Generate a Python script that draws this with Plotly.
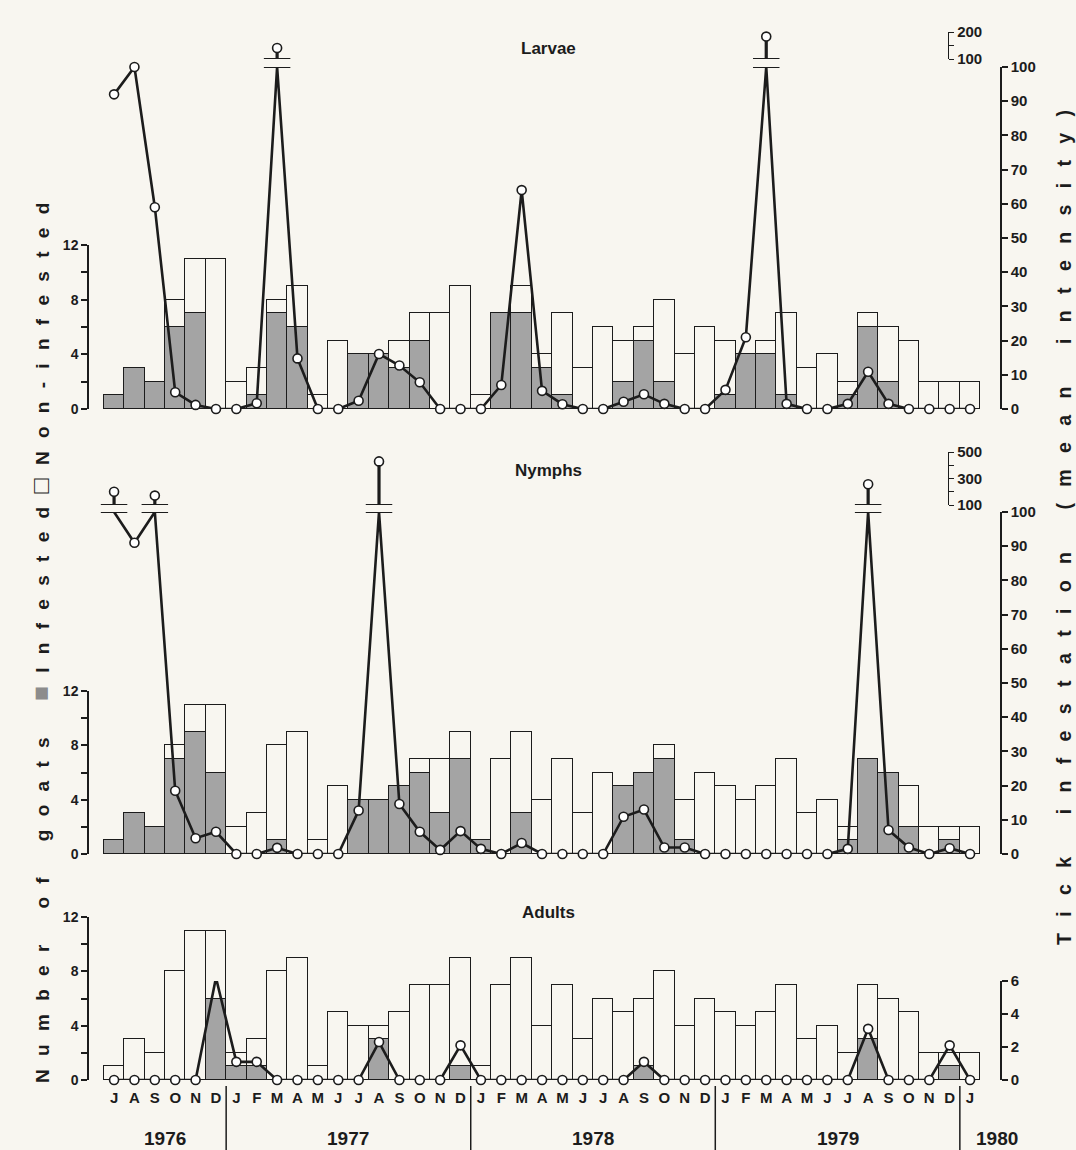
import plotly.graph_objects as go

W, H = 1076, 1150

# ---------------- data ----------------
month_labels = ["J", "A", "S", "O", "N", "D",
                "J", "F", "M", "A", "M", "J", "J", "A", "S", "O", "N", "D",
                "J", "F", "M", "A", "M", "J", "J", "A", "S", "O", "N", "D",
                "J", "F", "M", "A", "M", "J", "J", "A", "S", "O", "N", "D",
                "J"]
year_labels = ["1976", "1977", "1978", "1979", "1980"]
year_centers = [2.5, 11.5, 23.5, 35.5, 43.3]
year_breaks = [5.5, 17.5, 29.5, 41.5]

total_goats = [1, 3, 2, 8, 11, 11,
               2, 3, 8, 9, 1, 5, 4, 4, 5, 7, 7, 9,
               1, 7, 9, 4, 7, 3, 6, 5, 6, 8, 4, 6,
               5, 4, 5, 7, 3, 4, 2, 7, 6, 5, 2, 2,
               2]

larvae_infested = [1, 3, 2, 6, 7, 0,
                   0, 1, 7, 6, 0, 0, 4, 4, 3, 5, 0, 0,
                   0, 7, 7, 3, 1, 0, 0, 2, 5, 2, 0, 0,
                   1, 4, 4, 1, 0, 0, 1, 6, 2, 0, 0, 0,
                   0]
nymph_infested = [1, 3, 2, 7, 9, 6,
                  0, 0, 1, 0, 0, 0, 4, 4, 5, 6, 3, 7,
                  1, 0, 3, 0, 0, 0, 0, 5, 6, 7, 1, 0,
                  0, 0, 0, 0, 0, 0, 1, 7, 6, 2, 0, 1,
                  0]
adult_infested = [0, 0, 0, 0, 0, 6,
                  1, 1, 0, 0, 0, 0, 0, 3, 0, 0, 0, 1,
                  0, 0, 0, 0, 0, 0, 0, 0, 1, 0, 0, 0,
                  0, 0, 0, 0, 0, 0, 0, 3, 0, 0, 0, 1,
                  0]

larvae_intensity = [92, 100, 59, 4.9, 1.2, 0,
                    0, 1.7, 141, 14.8, 0, 0, 2.4, 16.1, 12.7, 7.8, 0, 0,
                    0, 7, 64, 5.3, 1.4, 0, 0, 2.1, 4.3, 1.5, 0, 0,
                    5.6, 21, 183, 1.5, 0, 0, 1.5, 10.9, 1.5, 0, 0, 0,
                    0]
nymph_intensity = [200, 91, 171, 18.5, 4.6, 6.5,
                   0, 0, 1.8, 0, 0, 0, 12.7, 429, 14.6, 6.5, 1.2, 6.7,
                   1.5, 0, 3.2, 0, 0, 0, 0, 10.9, 13, 1.9, 1.9, 0,
                   0, 0, 0, 0, 0, 0, 1.5, 257, 7, 1.9, 0, 1.7,
                   0]
adult_intensity = [0, 0, 0, 0, 0, 6.2,
                   1.1, 1.1, 0, 0, 0, 0, 0, 2.3, 0, 0, 0, 2.1,
                   0, 0, 0, 0, 0, 0, 0, 0, 1.1, 0, 0, 0,
                   0, 0, 0, 0, 0, 0, 0, 3.1, 0, 0, 0, 2.1,
                   0]

# ---------------- style ----------------
BG = "#f8f6f0"
INK = "#1c1c1c"
GRAY = "#a4a4a4"
FONT = "Liberation Sans"


def fx(px):
    return px / W


def fy(py):
    return 1 - py / H


fig = go.Figure()
shapes = []
idx = list(range(len(month_labels)))


def add_panel(inf, intensity, ybar, yline, yinset, cap):
    non = [t - i for t, i in zip(total_goats, inf)]
    fig.add_trace(go.Bar(x=idx, y=inf, yaxis=ybar, width=1,
                         marker=dict(color=GRAY, line=dict(color=INK, width=1.4))))
    fig.add_trace(go.Bar(x=idx, y=non, yaxis=ybar, width=1,
                         marker=dict(color=BG, line=dict(color=INK, width=1.4))))
    clipped = [min(v, cap) for v in intensity]
    fig.add_trace(go.Scatter(x=idx, y=clipped, yaxis=yline, mode="lines",
                             line=dict(color=INK, width=2.6)))
    fig.add_trace(go.Scatter(x=idx, y=[v if v <= cap else None for v in intensity],
                             yaxis=yline, mode="markers", cliponaxis=False,
                             marker=dict(symbol="circle", size=9, color="white",
                                         line=dict(color=INK, width=1.6))))
    if yinset is None:
        return
    for i, v in enumerate(intensity):
        if v > cap:
            fig.add_trace(go.Scatter(x=[i, i], y=[100, v], yaxis=yinset, mode="lines",
                                     line=dict(color=INK, width=3.2), cliponaxis=False))
            fig.add_trace(go.Scatter(x=[i], y=[v], yaxis=yinset, mode="markers",
                                     cliponaxis=False,
                                     marker=dict(symbol="circle", size=9, color="white",
                                                 line=dict(color=INK, width=1.6))))
            for yref in (yline, yinset):
                yv = cap if yref == yline else 100
                shapes.append(dict(type="line", xref="x", yref=yref,
                                   x0=i - 0.65, x1=i + 0.65, y0=yv, y1=yv,
                                   line=dict(color=INK, width=2)))


add_panel(larvae_infested, larvae_intensity, "y", "y2", "y3", 100)
add_panel(nymph_infested, nymph_intensity, "y4", "y5", "y6", 100)
add_panel(adult_infested, adult_intensity, "y7", "y8", None, 100)

tickfont = dict(family=FONT, size=14, color=INK, weight="bold")
rtickfont = dict(family=FONT, size=15, color=INK, weight="bold")


def left_axis(dom):
    return dict(domain=dom, range=[0, 12], anchor="x", side="left",
                tickvals=[0, 2, 4, 6, 8, 10, 12],
                ticktext=["0", "", "4", "", "8", "", "12"],
                ticks="outside", ticklen=6, tickwidth=1.5, tickcolor=INK,
                showline=True, linecolor=INK, linewidth=1.5, automargin=False,
                showgrid=False, zeroline=False, tickfont=tickfont, fixedrange=True)


def right_axis(dom, rng, vals):
    return dict(domain=dom, range=rng, anchor="x", side="right",
                tickvals=vals, ticks="outside", ticklen=6, tickwidth=1.5, tickcolor=INK,
                showline=True, linecolor=INK, linewidth=1.5, automargin=False,
                showgrid=False, zeroline=False, tickfont=rtickfont, fixedrange=True)


def inset_axis(dom, rng, vals, texts):
    return dict(domain=dom, range=rng, anchor="free", position=fx(948), side="right",
                tickvals=vals, ticktext=texts, ticks="outside", ticklen=5,
                tickwidth=1.4, tickcolor=INK, showline=True, linecolor=INK,
                linewidth=1.4, showgrid=False, zeroline=False, automargin=False,
                tickfont=rtickfont, fixedrange=True)


layout = dict(
    width=W, height=H, autosize=False,
    margin=dict(l=0, r=0, t=0, b=0, pad=0),
    paper_bgcolor=BG, plot_bgcolor="rgba(0,0,0,0)",
    barmode="stack", bargap=0, showlegend=False, hovermode=False,
    font=dict(family=FONT, color=INK),
    xaxis=dict(domain=[fx(89), fx(1000)], range=[-1.23, 43.47], anchor="y7",
               tickvals=idx, ticktext=month_labels, ticks="outside", ticklen=4,
               tickcolor="rgba(0,0,0,0)", showline=False, showgrid=False, zeroline=False,
               tickfont=dict(family=FONT, size=15, color=INK, weight="bold"),
               automargin=False, fixedrange=True),
    yaxis=left_axis([fy(409), fy(245)]),
    yaxis2=right_axis([fy(409), fy(67)], [0, 100], list(range(0, 101, 10))),
    yaxis3=inset_axis([fy(59), fy(32)], [100, 200], [100, 150, 200], ["100", "", "200"]),
    yaxis4=left_axis([fy(854), fy(691)]),
    yaxis5=right_axis([fy(854), fy(512)], [0, 100], list(range(0, 101, 10))),
    yaxis6=inset_axis([fy(505), fy(452)], [100, 500], [100, 200, 300, 400, 500],
                      ["100", "", "300", "", "500"]),
    yaxis7=left_axis([fy(1080), fy(917)]),
    yaxis8=right_axis([fy(1080), fy(981)], [0, 6], [0, 2, 4, 6]),
)

# year separators
for b in year_breaks:
    shapes.append(dict(type="line", xref="x", yref="paper", x0=b, x1=b,
                       y0=fy(1150), y1=fy(1086), line=dict(color=INK, width=1.5)))

annotations = []
for t, px, py in [("Larvae", 548, 48), ("Nymphs", 548, 470), ("Adults", 548, 912)]:
    annotations.append(dict(text="<b>%s</b>" % t, xref="paper", yref="paper",
                            x=fx(px), y=fy(py), xanchor="center", yanchor="middle",
                            showarrow=False,
                            font=dict(family=FONT, size=17, color=INK)))
for t, c in zip(year_labels, year_centers):
    annotations.append(dict(text="<b>%s</b>" % t, xref="x", yref="paper",
                            x=c, y=fy(1138), xanchor="center", yanchor="middle",
                            showarrow=False,
                            font=dict(family=FONT, size=19, color=INK)))


def spaced(tokens, sep):
    return sep.join("\u2002" if c == " " else c for c in tokens)


left_tokens = list("Number of goats ") + \
    ['<span style="color:#8c8c8c;font-size:25px">\u25a0</span>'] + \
    list("Infested") + ['<span style="font-size:25px">\u25a1</span>'] + list("Non-infested")
annotations.append(dict(text="<b>" + spaced(left_tokens, "\u2002\u2009") + "</b>",
                        xref="paper", yref="paper",
                        x=fx(40), y=fy(643), xanchor="center", yanchor="middle",
                        textangle=-90, showarrow=False,
                        font=dict(family=FONT, size=19, color=INK, weight="bold")))
right_tokens = list("Tick infestation (mean intensity)")
annotations.append(dict(text="<b>" + spaced(right_tokens, "\u2002\u2005\u200a") + "</b>",
                        xref="paper", yref="paper",
                        x=fx(1064), y=fy(528), xanchor="center", yanchor="middle",
                        textangle=-90, showarrow=False,
                        font=dict(family=FONT, size=19.6, color=INK, weight="bold")))

layout["shapes"] = shapes
layout["annotations"] = annotations
fig.update_layout(**layout)

fig.write_html(
    "out.html",
    config={"displayModeBar": False},
    post_script=("document.documentElement.style.margin='0';"
                 "document.body.style.margin='0';document.body.style.padding='0';"
                 "document.body.style.background='" + BG + "';"
                 "document.body.style.overflow='hidden';"),
)
